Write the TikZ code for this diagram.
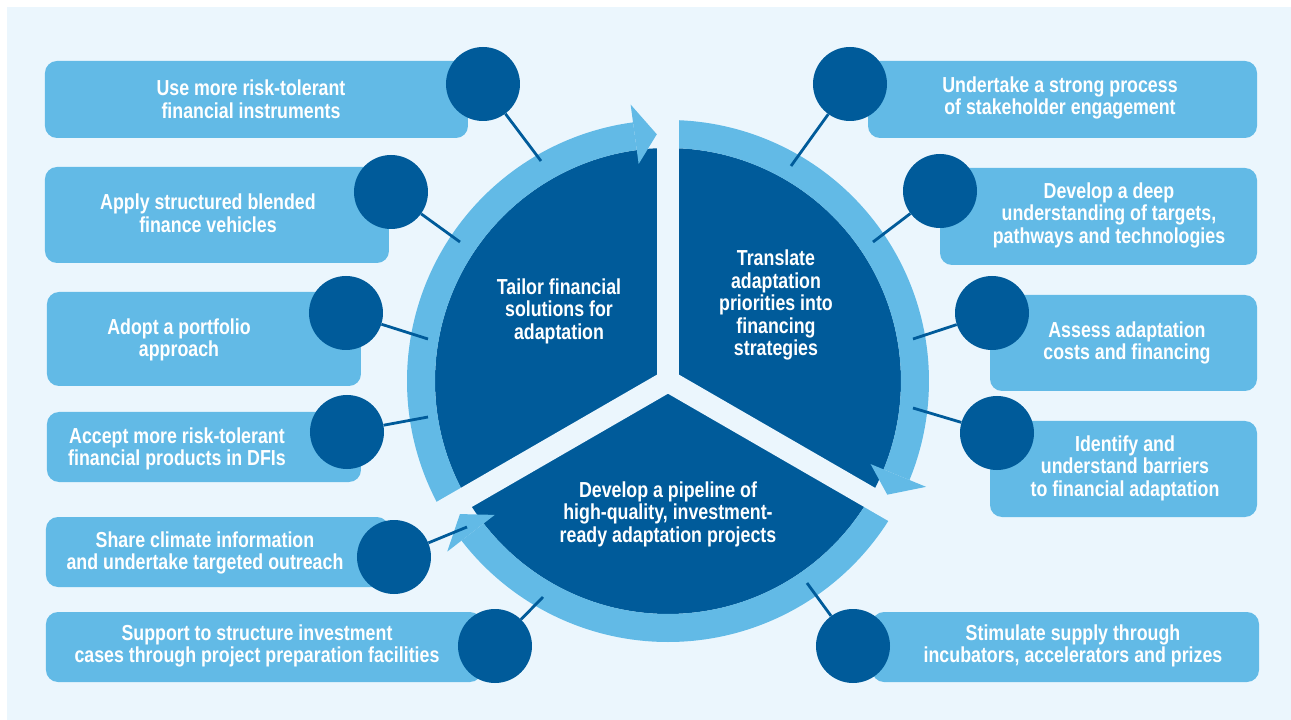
\documentclass[tikz,border=0pt]{standalone}
\usepackage{fontspec}
\setmainfont{Liberation Sans}[FakeStretch=0.82]
\definecolor{deepblue}{HTML}{005B9A}
\definecolor{skyblue}{HTML}{62BAE6}
\definecolor{paleblue}{HTML}{EBF6FD}

\begin{document}
\begin{tikzpicture}[x=1pt,y=1pt,
                    main node/.style={circle,fill=deepblue,minimum size=74pt,inner sep=0pt},
                    item box/.style={fill=skyblue,rounded corners=12pt},
                    item text/.style={text=white,align=center,inner sep=0pt,
                                      font=\bfseries\fontsize{21.7}{22.5}\selectfont},
                    link/.style={draw=deepblue,line width=2.8pt}]
  \useasboundingbox (-668,-339) rectangle (623,381);
  \fill[paleblue] (-661,-339) rectangle (623,374);

  %wheel%
  \fill[deepblue] (0,0) circle (233);
  \foreach \e in {90,-30,-150}
    \fill[skyblue] (\e+120:261) arc (\e+120:\e+7.7:261) -- (\e+7.7:233)
                   arc (\e+7.7:\e+120:233) -- cycle;
  \foreach \a in {90,210,330}
    \fill[paleblue,rotate=\a] (0,-11) rectangle (300,11);
  \foreach \e in {90,-30,-150}
    \fill[skyblue] (\e+2.6:247) -- (\e+7.7:279) -- (\e+7.7:219) -- cycle;

  %boxes%
  \fill[item box] (-623,243) rectangle (-200,320);
  \fill[item box] (-623,118) rectangle (-279,214);
  \fill[item box] (-621,-5) rectangle (-307,89);
  \fill[item box] (-621,-101) rectangle (-307,-31);
  \fill[item box] (-622,-206) rectangle (-279,-136);
  \fill[item box] (-622,-301) rectangle (-186,-231);
  \fill[item box] (200,243) rectangle (589,320);
  \fill[item box] (272,116) rectangle (589,213);
  \fill[item box] (322,-10) rectangle (589,86);
  \fill[item box] (322,-136) rectangle (589,-40);
  \fill[item box] (204,-301) rectangle (591,-231);

  %dots%
  \node[main node] (1) at (-185,297) {};
  \node[main node] (2) at (-277,189) {};
  \node[main node] (3) at (-322,68) {};
  \node[main node] (4) at (-321,-51) {};
  \node[main node] (5) at (-274,-176) {};
  \node[main node] (6) at (-173,-265) {};
  \node[main node] (7) at (182,297) {};
  \node[main node] (8) at (272,190) {};
  \node[main node] (9) at (324,68) {};
  \node[main node] (10) at (329,-52) {};
  \node[main node] (11) at (185,-265) {};

  \coordinate (p1) at (-127,220);
  \coordinate (p2) at (-208,139);
  \coordinate (p3) at (-240,42);
  \coordinate (p4) at (-240,-36);
  \coordinate (p5) at (-201,-146);
  \coordinate (p6) at (-125,-216);
  \coordinate (p7) at (123,215);
  \coordinate (p8) at (205,139);
  \coordinate (p9) at (245,42);
  \coordinate (p10) at (245,-27);
  \coordinate (p11) at (139,-202);

  \path[link]
    (1) edge (p1) (2) edge (p2) (3) edge (p3) (4) edge (p4)
    (5) edge (p5) (6) edge (p6) (7) edge (p7) (8) edge (p8)
    (9) edge (p9) (10) edge (p10) (11) edge (p11);

  %labels%
  \node[item text] (t1) at (-417,282) {Use more risk-tolerant\\financial instruments};
  \node[item text] (t2) at (-460,168) {Apply structured blended\\finance vehicles};
  \node[item text] (t3) at (-489,41) {Adopt a portfolio\\approach};
  \node[item text] (t4) at (-491,-68) {Accept more risk-tolerant\\financial products in DFIs};
  \node[item text] (t5) at (-463,-172) {Share climate information\\and undertake targeted outreach};
  \node[item text] (t6) at (-411,-265) {Support to structure investment\\cases through project preparation facilities};
  \node[item text] (t7) at (392,283) {Undertake a strong process\\of stakeholder engagement};
  \node[item text] (t8) at (441,166) {Develop a deep\\understanding of targets,\\pathways and technologies};
  \node[item text] (t9) at (459,38) {Assess adaptation\\costs and financing};
  \node[item text] (t10) at (457,-87) {Identify and\\understand barriers\\to financial adaptation};
  \node[item text] (t11) at (405,-265) {Stimulate supply through\\incubators, accelerators and prizes};

  \node[item text] (m1) at (-109,70) {Tailor financial\\solutions for\\adaptation};
  \node[item text] (m2) at (108,76) {Translate\\adaptation\\priorities into\\financing\\strategies};
  \node[item text] (m3) at (0,-133) {Develop a pipeline of\\high-quality, investment-\\ready adaptation projects};
\end{tikzpicture}
\end{document}
